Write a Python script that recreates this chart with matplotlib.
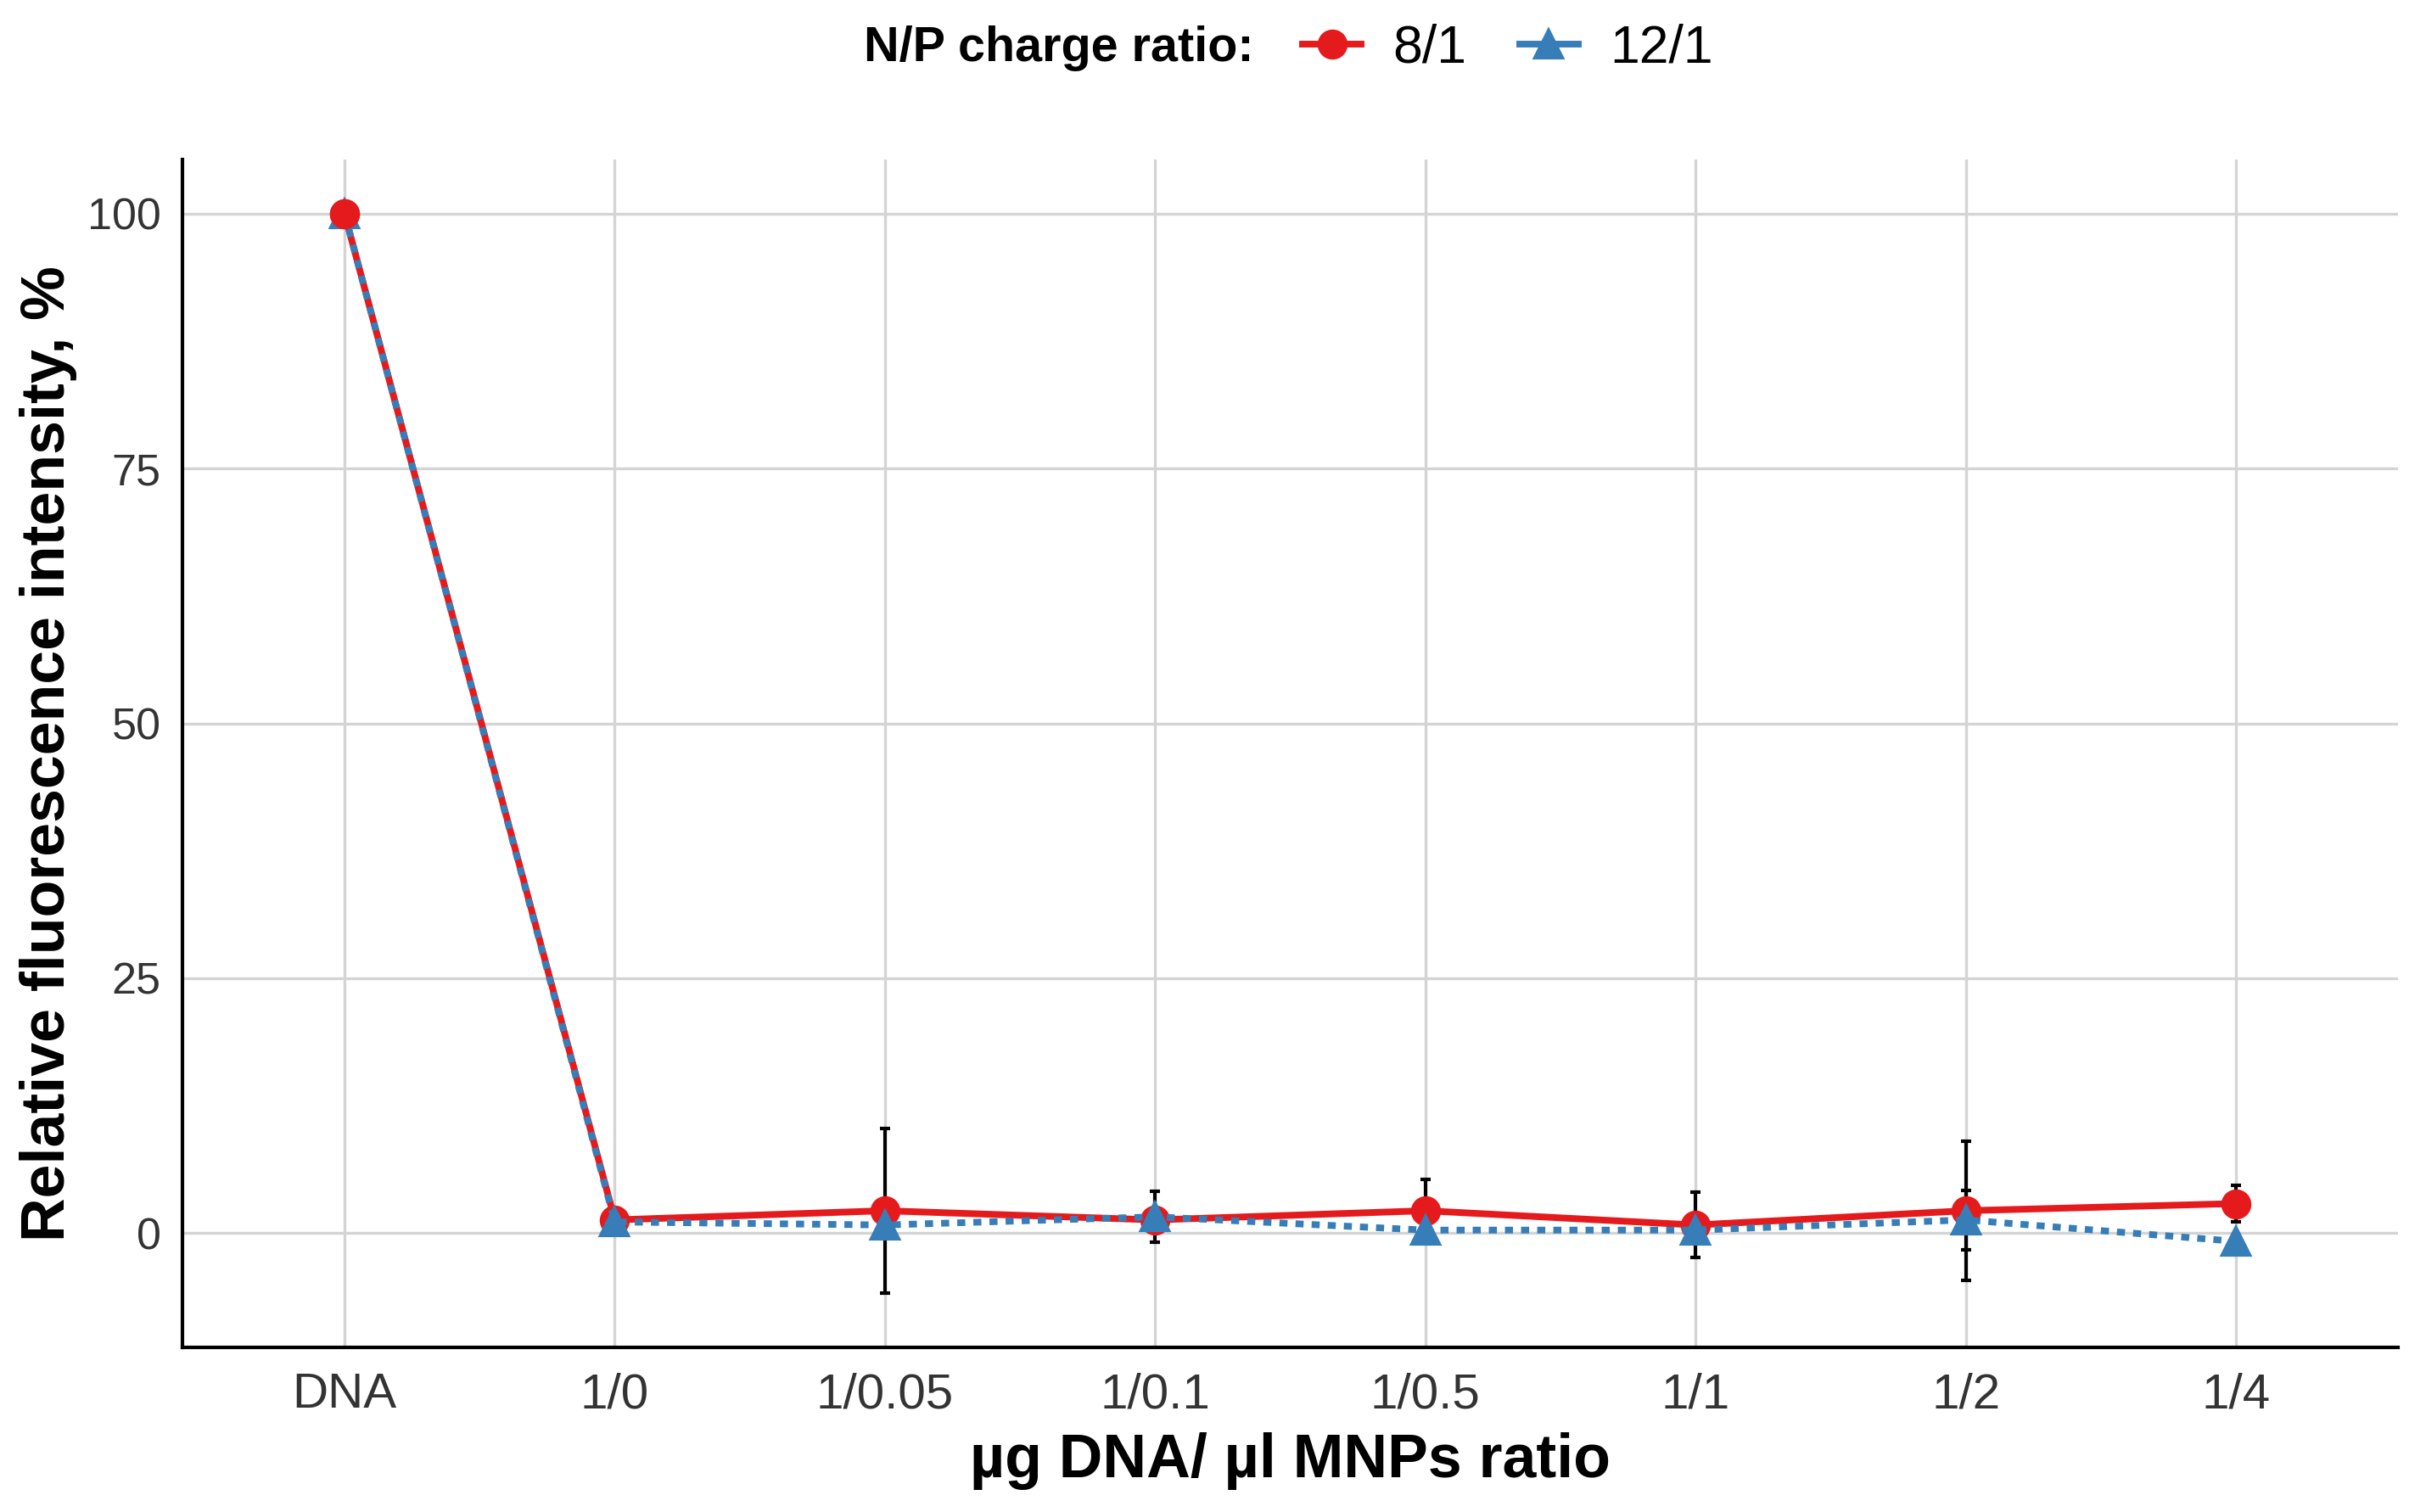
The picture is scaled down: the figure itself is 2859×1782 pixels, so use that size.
#!/usr/bin/env python3
"""
Relative fluorescence intensity vs ug DNA / ul MNPs ratio,
for two N/P charge ratios.

Generates: out.png
"""

import matplotlib.pyplot as plt
from matplotlib.lines import Line2D

plt.rcParams["font.family"] = ["Liberation Sans", "DejaVu Sans"]

CATEGORIES = ["DNA", "1/0", "1/0.05", "1/0.1", "1/0.5", "1/1", "1/2", "1/4"]

NP8_MEAN = [100, 1.3, 2.2, 1.3, 2.2, 0.8, 2.2, 2.9]
NP8_ERR = [0, 0.5, 8.1, 0.6, 3.1, 3.2, 6.8, 1.8]

NP12_MEAN = [100, 1.1, 0.8, 1.6, 0.3, 0.3, 1.3, -0.8]
NP12_ERR = [0, 0.5, 0.5, 2.5, 0.6, 0.5, 2.9, 0.6]

RED = "#e41a1c"
BLUE = "#377eb8"
GRID = "#d4d4d4"
TICK = "#333333"


def main() -> None:
    fig = plt.figure(figsize=(2859 / 300, 1782 / 300), dpi=300)
    ax = fig.add_axes([0.0752, 0.1089, 0.9133, 0.7856])

    x = list(range(len(CATEGORIES)))

    ax.errorbar(x, NP12_MEAN, yerr=NP12_ERR, fmt="none", ecolor="black",
                elinewidth=1.0, capsize=1.5, capthick=1.0, zorder=3)
    ax.errorbar(x, NP8_MEAN, yerr=NP8_ERR, fmt="none", ecolor="black",
                elinewidth=1.0, capsize=1.5, capthick=1.0, zorder=3)

    ax.plot(x, NP8_MEAN, color=RED, lw=1.9, marker="o", ms=7.5,
            solid_capstyle="butt", zorder=4)
    ax.plot(x, NP12_MEAN, color=BLUE, lw=1.9, ls=(0, (1.2, 1.2)),
            marker="^", ms=7.5, zorder=5)
    # red marker on DNA point sits on top
    ax.plot(x[:1], NP8_MEAN[:1], color=RED, marker="o", ms=7.5, ls="none",
            zorder=6)

    ax.set_xlim(-0.6, 7.6)
    ax.set_ylim(-11.2, 105.3)
    ax.set_xticks(x)
    ax.set_xticklabels(CATEGORIES)
    ax.set_yticks([0, 25, 50, 75, 100])

    ax.grid(True, color=GRID, lw=0.8)
    ax.set_axisbelow(True)
    for side in ("top", "right"):
        ax.spines[side].set_visible(False)
    for side in ("left", "bottom"):
        ax.spines[side].set_linewidth(1.0)
        ax.spines[side].set_color("black")
    ax.tick_params(length=0, labelcolor=TICK)
    ax.tick_params(axis="x", labelsize=14, pad=7)
    ax.tick_params(axis="y", labelsize=12.5, pad=6)

    ax.set_xlabel("µg DNA/ µl MNPs ratio", fontsize=17.2,
                  fontweight="bold", labelpad=4)
    ax.set_ylabel("Relative fluorescence intensity, %", fontsize=17.2,
                  fontweight="bold", labelpad=3)

    handles = [
        Line2D([], [], color=RED, lw=1.9, marker="o", ms=7.5),
        Line2D([], [], color=BLUE, lw=1.9, marker="^", ms=7.5),
    ]
    fig.text(0.356, 0.968, "N/P charge ratio:", fontsize=13.8,
             fontweight="bold", va="center", ha="left")
    fig.legend(handles, ["8/1", "12/1"], ncol=2, loc="center left",
               bbox_to_anchor=(0.537, 0.968), frameon=False, fontsize=15,
               handlelength=1.1, handletextpad=0.6, columnspacing=1.0,
               borderpad=0, borderaxespad=0)

    fig.savefig("out.png", dpi=300)


if __name__ == "__main__":
    main()
